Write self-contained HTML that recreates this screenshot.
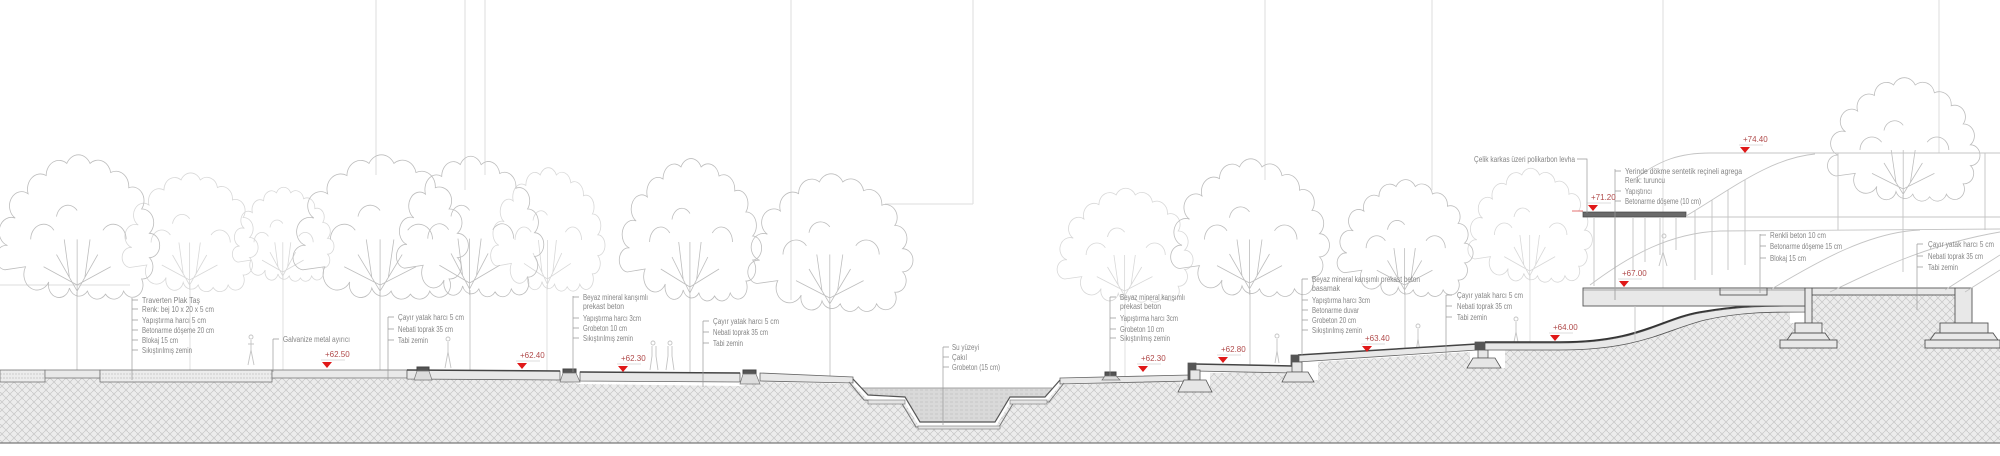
<!DOCTYPE html>
<html><head><meta charset="utf-8"><style>
html,body{margin:0;padding:0;background:#fff;}
svg{display:block;}
text{font-family:"Liberation Sans",sans-serif;font-size:8px;fill:#858585;}
.r{fill:#b04a4a;}
</style></head><body>
<svg width="2000" height="456" viewBox="0 0 2000 456" xmlns="http://www.w3.org/2000/svg">
<defs>
<pattern id="h" width="8" height="8" patternUnits="userSpaceOnUse">
<rect width="8" height="8" fill="#ececec"/>
<path d="M0,4 L4,0 M4,8 L8,4 M0,0 L4,4 M4,4 L8,8" stroke="#c9c9c9" stroke-width="0.8"/>
</pattern>
<pattern id="pv" width="6" height="4" patternUnits="userSpaceOnUse">
<rect width="6" height="4" fill="#ececec"/><path d="M0,2 L6,2" stroke="#aaa" stroke-width="0.6" stroke-dasharray="2,1"/>
</pattern>
<pattern id="wt" width="5" height="4" patternUnits="userSpaceOnUse">
<rect width="5" height="4" fill="#d9d9d9"/><path d="M0,2 L3,2" stroke="#bdbdbd" stroke-width="0.6"/>
</pattern>
<path id="c" vector-effect="non-scaling-stroke" d="M10,90 a8,8 0 0 1 2,-16 a9,9 0 0 1 6,-18 a9,9 0 0 1 10,-16 a10,10 0 0 1 14,-12 a10,10 0 0 1 16,-8 a10,10 0 0 1 18,0 a10,10 0 0 1 16,6 a10,10 0 0 1 14,10 a9,9 0 0 1 10,14 a9,9 0 0 1 6,16 a8,8 0 0 1 0,16 a8,8 0 0 1 -6,14 a8,8 0 0 1 -14,8 a8,8 0 0 1 -14,2 a8,8 0 0 1 -14,-2 a8,8 0 0 1 -14,-2 a8,8 0 0 1 -16,-4 a8,8 0 0 1 -18,-10 z" fill="none"/>
<path id="br" vector-effect="non-scaling-stroke" d="M66,108 L66,70 M66,104 L50,80 M66,104 L82,80 M66,100 L40,88 M66,100 L92,88 M60,95 L56,70 M72,95 L76,70 M30,70 a10,10 0 0 1 18,-6 M86,64 a10,10 0 0 1 18,6 M50,55 a9,9 0 0 1 16,-4" fill="none"/>
</defs>

<g stroke="#dedede" stroke-width="1">
<line x1="376" y1="0" x2="376" y2="175"/><line x1="485" y1="0" x2="485" y2="175"/>
<line x1="465" y1="0" x2="465" y2="190"/>
<line x1="791" y1="0" x2="791" y2="300"/><line x1="973" y1="0" x2="973" y2="204"/>
<line x1="885" y1="204" x2="973" y2="204"/>
<line x1="1265" y1="0" x2="1265" y2="180"/><line x1="1432" y1="0" x2="1432" y2="190"/>
<line x1="1663" y1="0" x2="1663" y2="330"/><line x1="1939" y1="0" x2="1939" y2="153"/>
<line x1="0" y1="285" x2="130" y2="285"/>
</g>

<g stroke="#bdbdbd" stroke-width="0.8" fill="none">
<g stroke="#d8d8d8">
<use href="#c" transform="translate(119,155) scale(1.07,1.25)"/><use href="#br" transform="translate(119,155) scale(1.07,1.25)"/><line x1="190" y1="285" x2="190" y2="370"/>
<use href="#c" transform="translate(230,173) scale(0.8,0.99)"/><use href="#br" transform="translate(230,173) scale(0.8,0.99)"/><line x1="283" y1="275" x2="283" y2="370"/>
<use href="#c" transform="translate(488,149) scale(0.9,1.3)"/><use href="#br" transform="translate(488,149) scale(0.9,1.3)"/><line x1="547" y1="285" x2="547" y2="372"/>
<use href="#c" transform="translate(1054,171) scale(1.07,1.2)"/><use href="#br" transform="translate(1054,171) scale(1.07,1.2)"/><line x1="1125" y1="295" x2="1125" y2="378"/>
<use href="#c" transform="translate(1465,151) scale(0.98,1.2)"/><use href="#br" transform="translate(1465,151) scale(0.98,1.2)"/><line x1="1530" y1="275" x2="1530" y2="342"/>
</g>
<use href="#c" transform="translate(-8,133) scale(1.29,1.52)"/><use href="#br" transform="translate(-8,133) scale(1.29,1.52)"/><line x1="77" y1="292" x2="77" y2="370"/>
<use href="#c" transform="translate(289,133) scale(1.38,1.52)"/><use href="#br" transform="translate(289,133) scale(1.38,1.52)"/><line x1="380" y1="292" x2="380" y2="371"/>
<use href="#c" transform="translate(393,135) scale(1.16,1.48)"/><use href="#br" transform="translate(393,135) scale(1.16,1.48)"/><line x1="470" y1="290" x2="470" y2="372"/>
<use href="#c" transform="translate(616,137) scale(1.12,1.5)"/><use href="#br" transform="translate(616,137) scale(1.12,1.5)"/><line x1="690" y1="295" x2="690" y2="374"/>
<use href="#c" transform="translate(744,153) scale(1.3,1.45)"/><use href="#br" transform="translate(744,153) scale(1.3,1.45)"/><line x1="830" y1="305" x2="830" y2="378"/>
<use href="#c" transform="translate(1167,138) scale(1.25,1.45)"/><use href="#br" transform="translate(1167,138) scale(1.25,1.45)"/><line x1="1250" y1="290" x2="1250" y2="365"/>
<use href="#c" transform="translate(1334,162) scale(1.07,1.23)"/><use href="#br" transform="translate(1334,162) scale(1.07,1.23)"/><line x1="1405" y1="292" x2="1405" y2="350"/>
<use href="#c" transform="translate(1824,59) scale(1.2,1.3)"/><use href="#br" transform="translate(1824,59) scale(1.2,1.3)"/><line x1="1903" y1="195" x2="1903" y2="272"/>
</g>

<g stroke="#c4c4c4" fill="none" stroke-width="0.9">
<path d="M251,340 l0,10 l-3,15 M251,350 l3,15 M248,344 l6,0"/><circle cx="251" cy="337" r="2"/>
<path d="M448,342 l0,10 l-3,16 M448,352 l3,16"/><circle cx="448" cy="339" r="2"/>
<path d="M652,346 l0,10 l-2,14 M656,346 l0,10 l2,14"/><circle cx="653" cy="343" r="2"/>
<path d="M668,346 l0,10 l-2,14 M672,346 l0,10 l2,14"/><circle cx="670" cy="343" r="2"/>
<path d="M1277,339 l0,12 l-2,12 M1277,351 l2,12"/><circle cx="1277" cy="336" r="2"/>
<path d="M1418,329 l0,10 l-2,13 M1418,339 l2,13"/><circle cx="1418" cy="326" r="2"/>
<path d="M1663,240 l0,12 l-4,14 M1663,252 l4,14"/><circle cx="1664" cy="236" r="2"/>
<path d="M1516,322 l0,10 l-2,10 M1516,332 l2,10"/><circle cx="1516" cy="319" r="2"/>
</g>

<polygon fill="url(#h)" points="0,382 45,382 45,378 100,378 100,382 272,382 272,378 420,379 560,380 580,384 740,386 760,382 853,384 868,400 905,403 920,428 995,428 1010,403 1045,403 1060,385 1180,381 1180,390 1210,390 1210,373 1285,372 1285,380 1318,380 1318,362 1470,352 1470,368 1505,368 1505,350 1560,350 1620,345 1665,330 1705,320 1740,313 1790,312 1790,323 1795,323 1795,333 1787,340 1780,340 1780,348 1837,348 1830,340 1825,333 1822,323 1812,323 1812,295 1955,295 1955,323 1940,323 1940,333 1930,340 1925,340 1925,348 2000,348 2000,443 0,443"/>
<line x1="0" y1="443" x2="2000" y2="443" stroke="#777" stroke-width="1.2"/>

<g stroke="#777" stroke-width="0.8">
<rect x="0" y="370" width="45" height="12" fill="url(#pv)"/>
<rect x="45" y="370" width="55" height="8" fill="#e9e9e9"/>
<rect x="100" y="370" width="172" height="12" fill="url(#pv)"/>
<rect x="272" y="370" width="135" height="8" fill="#e9e9e9"/>
</g>
<g fill="#e8e8e8" stroke="#666" stroke-width="0.8">
<polygon points="407,370 560,371 560,380 407,379"/>
<polygon points="580,372 740,373 740,382 580,381"/>
<polygon points="760,373 853,377 853,383 760,381"/>
<polygon points="1060,378 1190,375 1190,381 1060,384"/>
<polygon points="1195,364 1293,366 1293,373 1195,371"/>
<polygon points="1298,355 1477,344 1477,350 1298,362"/>
</g>
<g stroke="#444" stroke-width="1.5" fill="none">
<polyline points="407,370 560,371"/><polyline points="580,372 740,373"/>
<polyline points="1195,364 1293,366"/><polyline points="1298,355 1477,344"/>
</g>
<g fill="#555" stroke="#444"><rect x="417" y="367" width="12" height="4"/><rect x="563" y="369" width="13" height="4"/><rect x="743" y="370" width="13" height="4"/><rect x="1105" y="372" width="11" height="4"/></g>
<g fill="#ddd" stroke="#777" stroke-width="0.7"><polygon points="414,380 417,371 429,371 432,380"/><polygon points="560,382 563,373 576,373 580,382"/><polygon points="740,384 743,374 756,374 760,384"/><polygon points="1102,380 1105,376 1116,376 1120,380"/></g>

<polygon points="862,388 1052,388 1045,397 1010,397 995,422 920,422 905,397 868,395" fill="url(#wt)"/>
<path d="M853,379 L868,395 L905,397 L920,422 L995,422 L1010,397 L1045,397 L1060,380" fill="none" stroke="#555" stroke-width="1.2"/>
<path d="M849,382 L864,400 L901,402 L916,427 L999,427 L1014,402 L1049,402 L1064,383" fill="none" stroke="#777" stroke-width="1"/>
<g fill="#e4e4e4" stroke="#777" stroke-width="0.6"><rect x="868" y="400" width="37" height="4"/><rect x="918" y="426" width="82" height="3"/><rect x="1010" y="400" width="37" height="4"/></g>
<line x1="862" y1="388" x2="1052" y2="388" stroke="#888" stroke-width="0.7"/>

<g fill="#e6e6e6" stroke="#555" stroke-width="0.8">
<path d="M1188,363 h8 v18 h-8z" fill="#555"/>
<rect x="1190" y="370" width="10" height="10"/><polygon points="1184,380 1206,380 1212,392 1178,392"/>
<path d="M1291,355 h8 v10 h-8z" fill="#555"/>
<rect x="1292" y="362" width="10" height="10"/><polygon points="1287,372 1308,372 1314,382 1282,382"/>
<path d="M1475,342 h10 v8 h-10z" fill="#555"/>
<rect x="1478" y="350" width="10" height="8"/><polygon points="1473,358 1495,358 1501,368 1467,368"/>
</g>

<path d="M1485,343 L1560,343 C1640,343 1660,320 1700,313 C1740,306 1770,306 1805,306 L1805,312 C1770,312 1740,312 1705,320 C1665,330 1640,350 1560,350 L1485,350 Z" fill="#e8e8e8" stroke="#555" stroke-width="0.8"/>
<path d="M1485,342 L1560,342 C1640,342 1660,319 1700,312 C1740,305 1770,305 1805,305" fill="none" stroke="#333" stroke-width="1.6"/>
<g fill="#e8e8e8" stroke="#555" stroke-width="0.9">
<rect x="1583" y="288" width="222" height="18"/>
<rect x="1720" y="288" width="47" height="7"/>
<rect x="1812" y="288" width="143" height="7"/>
<rect x="1805" y="288" width="7" height="35"/>
<rect x="1795" y="323" width="27" height="10"/><polygon points="1792,333 1825,333 1830,340 1787,340"/><rect x="1780" y="340" width="57" height="8"/>
<rect x="1955" y="288" width="17" height="35"/>
<rect x="1940" y="323" width="48" height="10"/><polygon points="1935,333 1993,333 1998,340 1930,340"/><rect x="1925" y="340" width="75" height="8"/>
</g>
<line x1="1583" y1="290" x2="1805" y2="290" stroke="#666" stroke-width="0.6"/>
<rect x="1583" y="212" width="103" height="5" fill="#6a6a6a" stroke="#444" stroke-width="0.7"/>
<g stroke="#c4c4c4" fill="none" stroke-width="0.9">
<path d="M1636,178 C1660,160 1680,153 1710,153 L2000,153"/>
<path d="M1686,216 C1730,190 1770,158 1815,154"/>
<path d="M1686,217 L2000,217"/>
<path d="M1590,285 C1630,255 1670,233 1720,231 L2000,229"/>
<path d="M1770,290 C1820,260 1870,232 1920,230"/>
<path d="M1830,292 C1880,268 1930,244 2000,232"/>
<path d="M1945,290 L2000,255 M1965,292 L2000,270"/>
<line x1="1594" y1="217" x2="1594" y2="286"/><line x1="1615" y1="217" x2="1615" y2="300"/>
<line x1="1633" y1="217" x2="1633" y2="270"/><line x1="1645" y1="217" x2="1645" y2="262"/>
<line x1="1660" y1="217" x2="1660" y2="255"/><line x1="1676" y1="217" x2="1676" y2="250"/>
<line x1="1695" y1="210" x2="1695" y2="280"/><line x1="1712" y1="200" x2="1712" y2="275"/>
<line x1="1728" y1="190" x2="1728" y2="270"/><line x1="1745" y1="180" x2="1745" y2="265"/>
<line x1="1838" y1="153" x2="1838" y2="230"/><line x1="1985" y1="153" x2="1985" y2="230"/>
<line x1="1635" y1="306" x2="1635" y2="340"/>
</g>
<line x1="1572" y1="211" x2="1583" y2="211" stroke="#e05050" stroke-width="0.8"/>

<g stroke="#999" stroke-width="0.7" fill="none">
<path d="M132,298 V380 M132,300 h6 M132,309 h6 M132,320 h6 M132,330 h6 M132,340 h6 M132,350 h6"/>
<path d="M273,339 V372 M273,339 h6"/>
<path d="M388,317 V380 M388,317 h6 M388,329 h6 M388,340 h6"/>
<path d="M573,296 V372 M573,297 h6 M573,318 h6 M573,328 h6 M573,338 h6"/>
<path d="M703,321 V387 M703,321 h6 M703,332 h6 M703,343 h6"/>
<path d="M943,347 V425 M943,347 h6 M943,357 h6 M943,367 h6"/>
<path d="M1110,297 V376 M1110,297 h6 M1110,318 h6 M1110,329 h6 M1110,338 h6"/>
<path d="M1302,279 V356 M1302,279 h6 M1302,300 h6 M1302,310 h6 M1302,320 h6 M1302,330 h6"/>
<path d="M1446,295 V360 M1446,295 h6 M1446,306 h6 M1446,317 h6"/>
<path d="M1577,159 H1587 V213"/>
<path d="M1615,169 V300 M1615,171 h6 M1615,191 h6 M1615,201 h6"/>
<path d="M1760,234 V293 M1760,235 h6 M1760,246 h6 M1760,258 h6"/>
<path d="M1917,244 V310 M1917,244 h6 M1917,256 h6 M1917,267 h6"/>
</g>

<g>
<text x="142" y="303" textLength="58" lengthAdjust="spacingAndGlyphs">Traverten Plak Taş</text>
<text x="142" y="312" textLength="72" lengthAdjust="spacingAndGlyphs">Renk: bej 10 x 20 x 5 cm</text>
<text x="142" y="323" textLength="64" lengthAdjust="spacingAndGlyphs">Yapıştırma harcı 5 cm</text>
<text x="142" y="333" textLength="72" lengthAdjust="spacingAndGlyphs">Betonarme döşeme 20 cm</text>
<text x="142" y="343" textLength="36" lengthAdjust="spacingAndGlyphs">Blokaj 15 cm</text>
<text x="142" y="353" textLength="50" lengthAdjust="spacingAndGlyphs">Sıkıştırılmış zemin</text>
<text x="283" y="342" textLength="67" lengthAdjust="spacingAndGlyphs">Galvanize metal ayırıcı</text>
<text x="398" y="320" textLength="66" lengthAdjust="spacingAndGlyphs">Çayır yatak harcı 5 cm</text>
<text x="398" y="332" textLength="55" lengthAdjust="spacingAndGlyphs">Nebati toprak 35 cm</text>
<text x="398" y="343" textLength="30" lengthAdjust="spacingAndGlyphs">Tabi zemin</text>
<text x="583" y="300" textLength="65" lengthAdjust="spacingAndGlyphs">Beyaz mineral karışımlı</text>
<text x="583" y="309" textLength="41" lengthAdjust="spacingAndGlyphs">prekast beton</text>
<text x="583" y="321" textLength="58" lengthAdjust="spacingAndGlyphs">Yapıştırma harcı 3cm</text>
<text x="583" y="331" textLength="44" lengthAdjust="spacingAndGlyphs">Grobeton 10 cm</text>
<text x="583" y="341" textLength="50" lengthAdjust="spacingAndGlyphs">Sıkıştırılmış zemin</text>
<text x="713" y="324" textLength="66" lengthAdjust="spacingAndGlyphs">Çayır yatak harcı 5 cm</text>
<text x="713" y="335" textLength="55" lengthAdjust="spacingAndGlyphs">Nebati toprak 35 cm</text>
<text x="713" y="346" textLength="30" lengthAdjust="spacingAndGlyphs">Tabi zemin</text>
<text x="952" y="350" textLength="27" lengthAdjust="spacingAndGlyphs">Su yüzeyi</text>
<text x="952" y="360" textLength="15" lengthAdjust="spacingAndGlyphs">Çakıl</text>
<text x="952" y="370" textLength="48" lengthAdjust="spacingAndGlyphs">Grobeton (15 cm)</text>
<text x="1120" y="300" textLength="65" lengthAdjust="spacingAndGlyphs">Beyaz mineral karışımlı</text>
<text x="1120" y="309" textLength="41" lengthAdjust="spacingAndGlyphs">prekast beton</text>
<text x="1120" y="321" textLength="58" lengthAdjust="spacingAndGlyphs">Yapıştırma harcı 3cm</text>
<text x="1120" y="332" textLength="44" lengthAdjust="spacingAndGlyphs">Grobeton 10 cm</text>
<text x="1120" y="341" textLength="50" lengthAdjust="spacingAndGlyphs">Sıkıştırılmış zemin</text>
<text x="1312" y="282" textLength="108" lengthAdjust="spacingAndGlyphs">Beyaz mineral karışımlı prekast beton</text>
<text x="1312" y="291" textLength="28" lengthAdjust="spacingAndGlyphs">basamak</text>
<text x="1312" y="303" textLength="58" lengthAdjust="spacingAndGlyphs">Yapıştırma harcı 3cm</text>
<text x="1312" y="313" textLength="47" lengthAdjust="spacingAndGlyphs">Betonarme duvar</text>
<text x="1312" y="323" textLength="44" lengthAdjust="spacingAndGlyphs">Grobeton 20 cm</text>
<text x="1312" y="333" textLength="50" lengthAdjust="spacingAndGlyphs">Sıkıştırılmış zemin</text>
<text x="1457" y="298" textLength="66" lengthAdjust="spacingAndGlyphs">Çayır yatak harcı 5 cm</text>
<text x="1457" y="309" textLength="55" lengthAdjust="spacingAndGlyphs">Nebati toprak 35 cm</text>
<text x="1457" y="320" textLength="30" lengthAdjust="spacingAndGlyphs">Tabi zemin</text>
<text x="1474" y="162" textLength="101" lengthAdjust="spacingAndGlyphs">Çelik karkas üzeri polikarbon levha</text>
<text x="1625" y="174" textLength="117" lengthAdjust="spacingAndGlyphs">Yerinde dökme sentetik reçineli agrega</text>
<text x="1625" y="183" textLength="40" lengthAdjust="spacingAndGlyphs">Renk: turuncu</text>
<text x="1625" y="194" textLength="27" lengthAdjust="spacingAndGlyphs">Yapıştırıcı</text>
<text x="1625" y="204" textLength="76" lengthAdjust="spacingAndGlyphs">Betonarme döşeme (10 cm)</text>
<text x="1770" y="238" textLength="56" lengthAdjust="spacingAndGlyphs">Renkli beton 10 cm</text>
<text x="1770" y="249" textLength="72" lengthAdjust="spacingAndGlyphs">Betonarme döşeme 15 cm</text>
<text x="1770" y="261" textLength="36" lengthAdjust="spacingAndGlyphs">Blokaj 15 cm</text>
<text x="1928" y="247" textLength="66" lengthAdjust="spacingAndGlyphs">Çayır yatak harcı 5 cm</text>
<text x="1928" y="259" textLength="55" lengthAdjust="spacingAndGlyphs">Nebati toprak 35 cm</text>
<text x="1928" y="270" textLength="30" lengthAdjust="spacingAndGlyphs">Tabi zemin</text>
</g>

<g>
<g transform="translate(327,366)"><polygon points="-5,-4 5,-4 0,2" fill="#e01818"/><line x1="-6" y1="-6" x2="18" y2="-6" stroke="#bbb" stroke-width="0.6"/><text class="r" x="-2" y="-9">+62.50</text></g>
<g transform="translate(522,367)"><polygon points="-5,-4 5,-4 0,2" fill="#e01818"/><line x1="-6" y1="-6" x2="18" y2="-6" stroke="#bbb" stroke-width="0.6"/><text class="r" x="-2" y="-9">+62.40</text></g>
<g transform="translate(623,370)"><polygon points="-5,-4 5,-4 0,2" fill="#e01818"/><line x1="-6" y1="-6" x2="18" y2="-6" stroke="#bbb" stroke-width="0.6"/><text class="r" x="-2" y="-9">+62.30</text></g>
<g transform="translate(1143,370)"><polygon points="-5,-4 5,-4 0,2" fill="#e01818"/><line x1="-6" y1="-6" x2="18" y2="-6" stroke="#bbb" stroke-width="0.6"/><text class="r" x="-2" y="-9">+62.30</text></g>
<g transform="translate(1223,361)"><polygon points="-5,-4 5,-4 0,2" fill="#e01818"/><line x1="-6" y1="-6" x2="18" y2="-6" stroke="#bbb" stroke-width="0.6"/><text class="r" x="-2" y="-9">+62.80</text></g>
<g transform="translate(1367,350)"><polygon points="-5,-4 5,-4 0,2" fill="#e01818"/><line x1="-6" y1="-6" x2="18" y2="-6" stroke="#bbb" stroke-width="0.6"/><text class="r" x="-2" y="-9">+63.40</text></g>
<g transform="translate(1555,339)"><polygon points="-5,-4 5,-4 0,2" fill="#e01818"/><line x1="-6" y1="-6" x2="18" y2="-6" stroke="#bbb" stroke-width="0.6"/><text class="r" x="-2" y="-9">+64.00</text></g>
<g transform="translate(1624,285)"><polygon points="-5,-4 5,-4 0,2" fill="#e01818"/><line x1="-6" y1="-6" x2="18" y2="-6" stroke="#bbb" stroke-width="0.6"/><text class="r" x="-2" y="-9">+67.00</text></g>
<g transform="translate(1593,209)"><polygon points="-5,-4 5,-4 0,2" fill="#e01818"/><line x1="-6" y1="-6" x2="18" y2="-6" stroke="#bbb" stroke-width="0.6"/><text class="r" x="-2" y="-9">+71.20</text></g>
<g transform="translate(1745,151)"><polygon points="-5,-4 5,-4 0,2" fill="#e01818"/><line x1="-6" y1="-6" x2="18" y2="-6" stroke="#bbb" stroke-width="0.6"/><text class="r" x="-2" y="-9">+74.40</text></g>
</g>
</svg>
</body></html>
